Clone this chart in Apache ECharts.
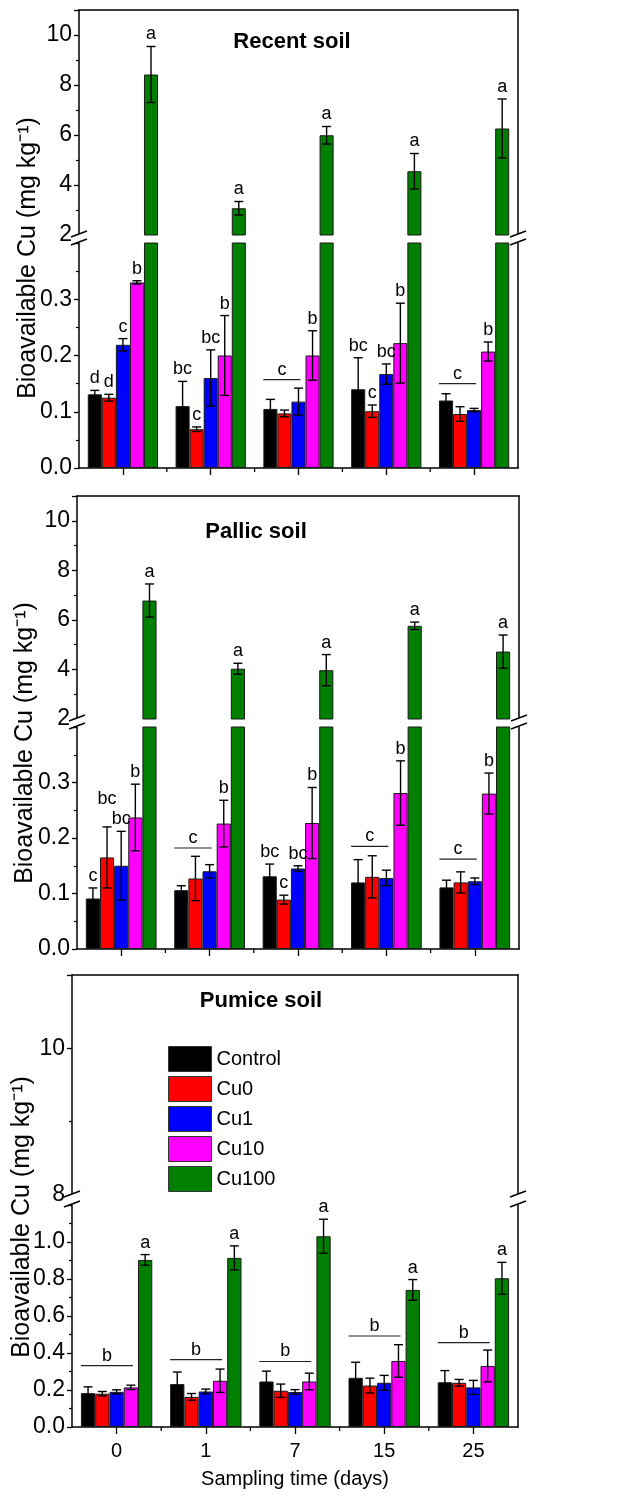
<!DOCTYPE html>
<html><head><meta charset="utf-8">
<script src="https://cdn.jsdelivr.net/npm/echarts@6/dist/echarts.min.js"></script>
<style>html,body{margin:0;padding:0;background:#fff}#c{width:627px;height:1499px}</style>
</head><body><div id="c"></div>
<script>
// ---------------- DATA ----------------
const days = ['0', '1', '7', '15', '25'];
const treatments = ['Control', 'Cu0', 'Cu1', 'Cu10', 'Cu100'];
const colors = ['#000000', '#ff0000', '#0000ff', '#ff00ff', '#007f00'];

// Recent soil (rows: Control, Cu0, Cu1, Cu10, Cu100; columns: days)
const recentMean = [
  [0.131, 0.110, 0.105, 0.140, 0.120],
  [0.125, 0.069, 0.097, 0.101, 0.096],
  [0.219, 0.160, 0.118, 0.167, 0.103],
  [0.330, 0.200, 0.200, 0.222, 0.207],
  [8.42, 3.07, 5.99, 4.55, 6.26]
];
const recentErr = [
  [0.007, 0.044, 0.017, 0.056, 0.012],
  [0.006, 0.004, 0.006, 0.011, 0.013],
  [0.011, 0.050, 0.024, 0.018, 0.003],
  [0.003, 0.071, 0.044, 0.071, 0.017],
  [1.12, 0.27, 0.35, 0.71, 1.18]
];
const recentLetters = [
  ['d', 'bc', '', 'bc', ''],
  ['d', 'c', '', 'c', ''],
  ['c', 'bc', '', 'bc', ''],
  ['b', 'b', 'b', 'b', 'b'],
  ['a', 'a', 'a', 'a', 'a']
];
const recentGroups = [null, null, {letter: 'c', bars: 3, level: 0.157}, null, {letter: 'c', bars: 3, level: 0.150}];
const recentUpperAxis = [2, 11, 2];   // min, max, interval
const recentLowerAxis = [0, 0.4, 0.1];

// Pallic soil
const pallicMean = [
  [0.091, 0.106, 0.131, 0.120, 0.111],
  [0.165, 0.127, 0.089, 0.130, 0.120],
  [0.150, 0.140, 0.145, 0.128, 0.122],
  [0.237, 0.226, 0.227, 0.281, 0.280],
  [6.78, 4.03, 3.97, 5.76, 4.72]
];
const pallicErr = [
  [0.019, 0.008, 0.022, 0.041, 0.013],
  [0.055, 0.040, 0.008, 0.038, 0.019],
  [0.062, 0.012, 0.005, 0.014, 0.006],
  [0.060, 0.042, 0.064, 0.058, 0.037],
  [0.67, 0.22, 0.63, 0.15, 0.67]
];
const pallicLetters = [
  ['c', '', 'bc', '', ''],
  ['bc', '', 'c', '', ''],
  ['bc', '', 'bc', '', ''],
  ['b', 'b', 'b', 'b', 'b'],
  ['a', 'a', 'a', 'a', 'a']
];
const pallicGroups = [null, {letter: 'c', bars: 3, level: 0.182}, null, {letter: 'c', bars: 3, level: 0.185}, {letter: 'c', bars: 3, level: 0.162}];
const pallicUpperAxis = [2, 11, 2];
const pallicLowerAxis = [0, 0.4, 0.1];

// Pumice soil
const pumiceMean = [
  [0.183, 0.232, 0.246, 0.266, 0.242],
  [0.180, 0.163, 0.196, 0.224, 0.239],
  [0.190, 0.192, 0.189, 0.239, 0.214],
  [0.214, 0.250, 0.246, 0.357, 0.330],
  [0.903, 0.914, 1.031, 0.741, 0.804]
];
const pumiceErr = [
  [0.034, 0.065, 0.056, 0.084, 0.063],
  [0.012, 0.018, 0.036, 0.040, 0.018],
  [0.011, 0.013, 0.013, 0.040, 0.038],
  [0.012, 0.063, 0.045, 0.088, 0.086],
  [0.029, 0.065, 0.092, 0.056, 0.086]
];
const pumiceLetters = [
  ['', '', '', '', ''],
  ['', '', '', '', ''],
  ['', '', '', '', ''],
  ['', '', '', '', ''],
  ['a', 'a', 'a', 'a', 'a']
];
const pumiceGroups = [
  {letter: 'b', bars: 4, level: 0.332}, {letter: 'b', bars: 4, level: 0.364},
  {letter: 'b', bars: 4, level: 0.354}, {letter: 'b', bars: 4, level: 0.492},
  {letter: 'b', bars: 4, level: 0.456}
];
const pumiceUpperAxis = [8, 11, 2];
const pumiceLowerAxis = [0, 1.2, 0.2];

const yAxisTitle = 'Bioavailable Cu (mg kg\u207B\u00B9)';
const xAxisTitle = 'Sampling time (days)';

// ---------------- LAYOUT / STYLE ----------------
const FONT = '"Liberation Sans", Arial, sans-serif';
const BAR_FRAC = 0.16;
const CAP = 4.5;
const LETTER_FS = 18;
const LETTER_LIFT = 12;
const AX = {color: '#000', width: 1.5};

const panels = [
  {title: 'Recent soil', mean: recentMean, err: recentErr, letters: recentLetters, groups: recentGroups,
   up: recentUpperAxis, lo: recentLowerAxis,
   left: 79, width: 439, upTop: 10, upH: 225, loTop: 243, loH: 225,
   titleX: 292, titleY: 42, nameX: 28, nameY: 258, showX: false},
  {title: 'Pallic soil', mean: pallicMean, err: pallicErr, letters: pallicLetters, groups: pallicGroups,
   up: pallicUpperAxis, lo: pallicLowerAxis,
   left: 77, width: 442, upTop: 496, upH: 223, loTop: 727, loH: 222,
   titleX: 256, titleY: 532, nameX: 25, nameY: 743, showX: false},
  {title: 'Pumice soil', mean: pumiceMean, err: pumiceErr, letters: pumiceLetters, groups: pumiceGroups,
   up: pumiceUpperAxis, lo: pumiceLowerAxis,
   left: 72, width: 446, upTop: 975, upH: 220, loTop: 1205, loH: 222,
   titleX: 261, titleY: 1001, nameX: 22, nameY: 1217, showX: true}
];

const grid = [], xAxis = [], yAxis = [], series = [], graphic = [];

function fmt(step) { return v => step < 1 ? v.toFixed(1) : String(Math.round(v)); }

function leftY(gi, ax) {
  return {type: 'value', gridIndex: gi, position: 'left', min: ax[0], max: ax[1], interval: ax[2],
    axisLine: {show: true, lineStyle: AX},
    axisTick: {show: true, length: 5, lineStyle: {color: '#000', width: 1.3}},
    minorTick: {show: true, splitNumber: 2, length: 3, lineStyle: {color: '#000', width: 1.2}},
    splitLine: {show: false},
    axisLabel: {show: true, fontSize: 23, fontFamily: FONT, color: '#000', margin: 7,
      showMaxLabel: false, formatter: fmt(ax[2])}};
}
function rightY(gi) {
  return {type: 'value', gridIndex: gi, position: 'right', min: 0, max: 1,
    axisLine: {show: true, lineStyle: AX}, axisTick: {show: false},
    axisLabel: {show: false}, splitLine: {show: false}};
}

function errorSeries(p, xi, yi, upper) {
  const data = [];
  p.mean.forEach((row, s) => row.forEach((m, c) => {
    if ((m > p.lo[1]) === upper) data.push([c, m, p.err[s][c], s]);
  }));
  return {type: 'custom', xAxisIndex: xi, yAxisIndex: yi, data, z: 4, silent: true,
    renderItem(params, api) {
      const c = api.value(0), m = api.value(1), e = api.value(2), s = api.value(3);
      const bw = api.size([1, 0])[0] * BAR_FRAC;
      const x = api.coord([c, m])[0] + (s - 2) * bw;
      const y1 = api.coord([c, m + e])[1], y2 = api.coord([c, m - e])[1];
      const st = {stroke: '#000', lineWidth: 1.4};
      return {type: 'group', children: [
        {type: 'line', shape: {x1: x, y1: y1, x2: x, y2: y2}, style: st},
        {type: 'line', shape: {x1: x - CAP, y1: y1, x2: x + CAP, y2: y1}, style: st},
        {type: 'line', shape: {x1: x - CAP, y1: y2, x2: x + CAP, y2: y2}, style: st}
      ]};
    }};
}

function letterSeries(p, xi, yi, upper) {
  const items = [];
  for (let c = 0; c < days.length; c++) {
    for (let s = 0; s < treatments.length; s++) {
      const L = p.letters[s][c];
      if (!L) continue;
      const m = p.mean[s][c];
      if ((m > p.lo[1]) !== upper) continue;
      items.push({c, s, top: m + p.err[s][c], text: L});
    }
  }
  items.forEach(it => { it.next = items.find(o => o.c === it.c && o.s === it.s + 1) || null; });
  return {type: 'custom', xAxisIndex: xi, yAxisIndex: yi, z: 6, silent: true,
    data: items.map((it, k) => [it.c, it.top, k]),
    renderItem(params, api) {
      const it = items[api.value(2)];
      const bw = api.size([1, 0])[0] * BAR_FRAC;
      const pos = o => { const pt = api.coord([o.c, o.top]); return [pt[0] + (o.s - 2) * bw, pt[1] - LETTER_LIFT]; };
      let [x, y] = pos(it);
      if (it.next) {
        const [xn, yn] = pos(it.next);
        const w = it.text.length * LETTER_FS * 0.56, wn = it.next.text.length * LETTER_FS * 0.56;
        if (Math.abs(x - xn) < (w + wn) / 2 && Math.abs(y - yn) < LETTER_FS) y = Math.min(y, yn - LETTER_FS - 2);
      }
      return {type: 'text', x, y, style: {text: it.text, font: LETTER_FS + 'px ' + FONT, fill: '#000',
        textAlign: 'center', textVerticalAlign: 'middle', align: 'center', verticalAlign: 'middle'}};
    }};
}

function groupSeries(p, xi, yi) {
  const items = [];
  p.groups.forEach((g, c) => { if (g) items.push(Object.assign({c}, g)); });
  return {type: 'custom', xAxisIndex: xi, yAxisIndex: yi, z: 6, silent: true,
    data: items.map((g, k) => [g.c, g.level, k]),
    renderItem(params, api) {
      const g = items[api.value(2)];
      const bw = api.size([1, 0])[0] * BAR_FRAC;
      const pt = api.coord([g.c, g.level]);
      const x0 = pt[0] - 2.5 * bw, x1 = pt[0] + (g.bars - 3) * bw + 2;
      return {type: 'group', children: [
        {type: 'line', shape: {x1: x0, y1: pt[1], x2: x1, y2: pt[1]}, style: {stroke: '#222', lineWidth: 1.2}},
        {type: 'text', x: (x0 + x1) / 2, y: pt[1] - 10, style: {text: g.letter, font: LETTER_FS + 'px ' + FONT,
          fill: '#000', textAlign: 'center', textVerticalAlign: 'middle', align: 'center', verticalAlign: 'middle'}}
      ]};
    }};
}

function boundaryTicks(xi, yi, ymin) {
  return {type: 'custom', xAxisIndex: xi, yAxisIndex: yi, silent: true, z: 3,
    data: [[1, ymin], [2, ymin], [3, ymin], [4, ymin]],
    renderItem(params, api) {
      const band = api.size([1, 0])[0];
      const pt = api.coord([api.value(0), api.value(1)]);
      const x = pt[0] - band / 2;
      return {type: 'line', shape: {x1: x, y1: pt[1], x2: x, y2: pt[1] + 4}, style: {stroke: '#000', lineWidth: 1.3}};
    }};
}

panels.forEach((p, i) => {
  const gU = 2 * i, gL = 2 * i + 1;
  const xU = 2 * i, xL = 2 * i + 1;
  const yU = 4 * i, yL = 4 * i + 2;
  grid.push({left: p.left, top: p.upTop, width: p.width, height: p.upH, containLabel: false, outerBoundsMode: 'none'});
  grid.push({left: p.left, top: p.loTop, width: p.width, height: p.loH, containLabel: false, outerBoundsMode: 'none'});

  xAxis.push({type: 'category', gridIndex: gU, data: days, position: 'top',
    axisLine: {show: true, onZero: false, lineStyle: AX}, axisTick: {show: false}, axisLabel: {show: false}});
  const xLow = {type: 'category', gridIndex: gL, data: days, position: 'bottom',
    axisLine: {show: true, onZero: false, lineStyle: AX},
    axisTick: {show: true, alignWithLabel: true, length: 7, lineStyle: {color: '#000', width: 1.3}},
    axisLabel: {show: p.showX, fontSize: 20, fontFamily: FONT, color: '#000', margin: 14}};
  if (p.showX) {
    xLow.name = xAxisTitle;
    xLow.nameLocation = 'middle';
    xLow.nameGap = 42;
    xLow.nameTextStyle = {fontSize: 20, fontFamily: FONT, color: '#000'};
  }
  xAxis.push(xLow);

  yAxis.push(leftY(gU, p.up), rightY(gU), leftY(gL, p.lo), rightY(gL));

  treatments.forEach((name, s) => {
    const base = {type: 'bar', name, barWidth: (BAR_FRAC * 100) + '%', barGap: '0%', clip: true, silent: true,
      itemStyle: {color: colors[s], borderColor: '#1a1a1a', borderWidth: 1}, z: 2};
    series.push(Object.assign({}, base, {xAxisIndex: xU, yAxisIndex: yU,
      data: p.mean[s].map(v => v >= p.up[0] ? v : '-')}));
    series.push(Object.assign({}, base, {xAxisIndex: xL, yAxisIndex: yL, data: p.mean[s].slice()}));
  });
  series.push(errorSeries(p, xU, yU, true), errorSeries(p, xL, yL, false));
  series.push(letterSeries(p, xU, yU, true), letterSeries(p, xL, yL, false));
  series.push(groupSeries(p, xL, yL));
  series.push(boundaryTicks(xL, yL, p.lo[0]));

  // title and y-axis name
  graphic.push({type: 'text', x: p.titleX, y: p.titleY, style: {text: p.title,
    font: 'bold 22px ' + FONT, fill: '#000', textAlign: 'center', textVerticalAlign: 'middle', align: 'center', verticalAlign: 'middle'}});
  graphic.push({type: 'text', x: p.nameX, y: p.nameY, rotation: Math.PI / 2, style: {text: yAxisTitle,
    font: '25px ' + FONT, fill: '#000', textAlign: 'center', textVerticalAlign: 'middle', align: 'center', verticalAlign: 'middle'}});

  // axis break marks
  const yb1 = p.upTop + p.upH, yb2 = p.loTop;
  [p.left, p.left + p.width].forEach(xb => {
    graphic.push({type: 'polygon', shape: {points: [[xb - 8, yb1 + 2], [xb + 8, yb1 - 4], [xb + 8, yb2 - 4], [xb - 8, yb2 + 2]]},
      style: {fill: '#fff'}, z: 100});
    [yb1, yb2].forEach(yb => {
      graphic.push({type: 'line', shape: {x1: xb - 8, y1: yb + 2, x2: xb + 8, y2: yb - 4},
        style: {stroke: '#000', lineWidth: 1.4}, z: 101});
    });
  });
});

const chart = echarts.init(document.getElementById('c'), null, {renderer: 'canvas'});
chart.setOption({
  animation: false,
  backgroundColor: '#fff',
  grid, xAxis, yAxis, series, graphic,
  legend: {orient: 'vertical', left: 168, top: 1046, itemWidth: 43, itemHeight: 25, itemGap: 4, padding: 0,
    icon: 'rect', data: treatments, selectedMode: false,
    itemStyle: {borderColor: '#333', borderWidth: 1},
    textStyle: {fontSize: 20, fontFamily: FONT, color: '#000'}}
});
</script>
</body></html>
